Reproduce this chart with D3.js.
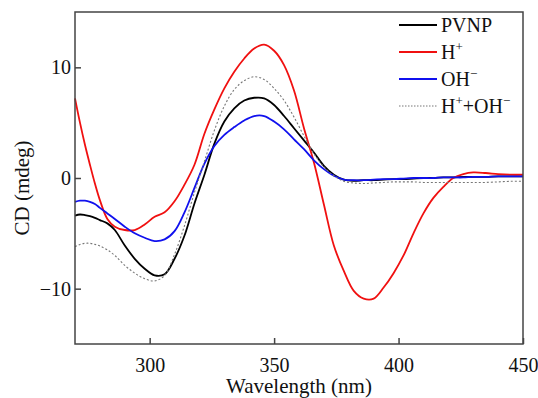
<!DOCTYPE html>
<html>
<head>
<meta charset="utf-8">
<script src="https://cdn.jsdelivr.net/npm/d3@7/dist/d3.min.js"></script>
<style>
  body { margin: 0; background: #fff; }
  svg text { font-family: "Liberation Serif", "Times New Roman", Times, "DejaVu Serif", serif; fill: #111; }
</style>
</head>
<body>
<div id="chart"></div>
<script>
// wavelengths (nm) shared by every series
const wavelength = [270,272,274,276,278,280,283,286,290,294,298,302,306,310,314,318,322,326,330,334,338,342,346,350,354,358,362,366,370,374,378,382,386,390,394,398,402,406,410,414,418,422,426,430,435,440,445,450];

const pvnp  = [-3.4,-3.3,-3.35,-3.45,-3.6,-3.8,-4.1,-4.7,-6.1,-7.3,-8.2,-8.8,-8.7,-7.3,-5.2,-2.3,0.3,3.1,5.1,6.3,7.0,7.25,7.2,6.6,5.6,4.5,3.4,2.3,1.1,0.3,-0.15,-0.25,-0.2,-0.2,-0.15,-0.1,-0.1,-0.05,0,0,0.05,0.05,0.1,0.1,0.1,0.15,0.15,0.15];
const hPlus = [7.2,5.0,3.0,1.2,-0.5,-2.0,-3.7,-4.4,-4.7,-4.7,-4.2,-3.5,-3.1,-2.1,-0.6,1.2,4.0,6.2,8.1,9.6,10.8,11.7,12.05,11.5,10.2,7.9,4.5,1.4,-2.4,-6.1,-8.4,-10.2,-10.9,-10.9,-9.9,-8.6,-7.0,-5.0,-3.2,-1.8,-0.8,0.0,0.35,0.5,0.45,0.35,0.3,0.3];
const ohMinus = [-2.15,-2.05,-2.05,-2.15,-2.35,-2.7,-3.2,-3.7,-4.4,-5.0,-5.4,-5.7,-5.55,-4.8,-3.1,-0.9,1.3,2.9,3.9,4.6,5.2,5.6,5.6,5.1,4.4,3.5,2.6,1.6,0.8,0.2,-0.15,-0.2,-0.2,-0.15,-0.1,-0.1,-0.05,0,0,0,0.05,0.05,0.05,0.1,0.1,0.15,0.15,0.15];
const hPlusOh = [-6.2,-6.0,-5.9,-5.9,-6.0,-6.15,-6.5,-7.0,-7.9,-8.6,-9.1,-9.3,-8.8,-6.9,-4.3,-1.3,1.5,4.3,6.5,8.0,8.8,9.15,8.9,8.1,7.0,5.5,3.8,2.2,1.0,0.2,-0.3,-0.45,-0.5,-0.45,-0.4,-0.35,-0.35,-0.35,-0.4,-0.4,-0.4,-0.4,-0.4,-0.4,-0.4,-0.35,-0.3,-0.3];

const xTicks = [300, 350, 400, 450];
const yTicks = [-10, 0, 10];

const series = [
  {name: "PVNP", values: pvnp, color: "#000", width: 1.8, dash: null},
  {name: "H+", values: hPlus, color: "#f01010", width: 1.8, dash: null},
  {name: "OH-", values: ohMinus, color: "#1010ee", width: 1.8, dash: null},
  {name: "H+OH", values: hPlusOh, color: "#777", width: 1.1, dash: "2,2"}
];

const serif = '"Liberation Serif", "Times New Roman", Times, "DejaVu Serif", serif';

const W = 538, H = 398;
const margin = {top: 12, right: 15, bottom: 54, left: 75},
  width = W - margin.left - margin.right,
  height = H - margin.top - margin.bottom;

const svg = d3.select("#chart")
  .append("svg")
  .attr("width", W)
  .attr("height", H)
  .append("g")
  .attr("transform", `translate(${margin.left}, ${margin.top})`);

const x = d3.scaleLinear().domain([270, 450]).range([0, width]);
const y = d3.scaleLinear().domain([-15, 15]).range([height, 0]);

// curves
const line = d3.line()
  .x((d, i) => x(wavelength[i]))
  .y(d => y(d))
  .curve(d3.curveCatmullRom.alpha(0.5));

svg.append("g")
  .selectAll("path")
  .data(series)
  .join("path")
  .attr("fill", "none")
  .attr("stroke", d => d.color)
  .attr("stroke-width", d => d.width)
  .attr("stroke-dasharray", d => d.dash)
  .attr("d", d => line(d.values));

// frame
svg.append("rect")
  .attr("width", width)
  .attr("height", height)
  .attr("fill", "none")
  .attr("stroke", "#444")
  .attr("stroke-width", 1.5);

// X axis, ticks inside
const xAxis = svg.append("g")
  .attr("transform", `translate(0, ${height})`)
  .call(d3.axisBottom(x).tickValues(xTicks).tickSizeInner(-6).tickSizeOuter(0).tickPadding(14));
xAxis.attr("font-family", serif);
xAxis.select(".domain").remove();
xAxis.selectAll(".tick line").attr("stroke", "#444").attr("stroke-width", 1.5);
xAxis.selectAll(".tick text")
  .attr("font-size", 20)
  .attr("fill", "#111");

// Y axis, ticks inside
const yAxis = svg.append("g")
  .call(d3.axisLeft(y).tickValues(yTicks).tickSizeInner(-6).tickSizeOuter(0).tickPadding(4)
    .tickFormat(d => d < 0 ? "\u2212" + Math.abs(d) : d));
yAxis.attr("font-family", serif);
yAxis.select(".domain").remove();
yAxis.selectAll(".tick line").attr("stroke", "#444").attr("stroke-width", 1.5);
yAxis.selectAll(".tick text")
  .attr("font-size", 20)
  .attr("fill", "#111");

// axis titles
svg.append("text")
  .attr("x", width / 2)
  .attr("y", height + 49)
  .attr("text-anchor", "middle")
  .attr("font-size", 21)
  .text("Wavelength (nm)");

svg.append("text")
  .attr("transform", `translate(${22 - margin.left}, ${height / 2 + 10}) rotate(-90)`)
  .attr("text-anchor", "middle")
  .attr("dy", "0.35em")
  .attr("font-size", 21)
  .text("CD (mdeg)");

// legend
const legend = svg.append("g").attr("transform", `translate(${399 - margin.left}, ${25 - margin.top})`);
const rows = legend.selectAll("g")
  .data(series)
  .join("g")
  .attr("transform", (d, i) => `translate(0, ${i * 27})`);

rows.append("line")
  .attr("x1", 0).attr("x2", 38)
  .attr("stroke", d => d.color)
  .attr("stroke-width", d => d.dash ? 1 : 1.8)
  .attr("stroke-dasharray", d => d.dash ? "1.5,1.5" : null);

const labels = rows.append("text")
  .attr("x", 42)
  .attr("y", 7)
  .attr("font-size", 20);

labels.each(function(d) {
  const t = d3.select(this);
  if (d.name === "PVNP") {
    t.text("PVNP");
  } else if (d.name === "H+") {
    t.append("tspan").text("H");
    t.append("tspan").attr("font-size", 13).attr("dy", -8).text("+");
  } else if (d.name === "OH-") {
    t.append("tspan").text("OH");
    t.append("tspan").attr("font-size", 13).attr("dy", -8).text("\u2212");
  } else {
    t.append("tspan").text("H");
    t.append("tspan").attr("font-size", 13).attr("dy", -8).text("+");
    t.append("tspan").attr("dy", 8).text("+OH");
    t.append("tspan").attr("font-size", 13).attr("dy", -8).text("\u2212");
  }
});
</script>
</body>
</html>
